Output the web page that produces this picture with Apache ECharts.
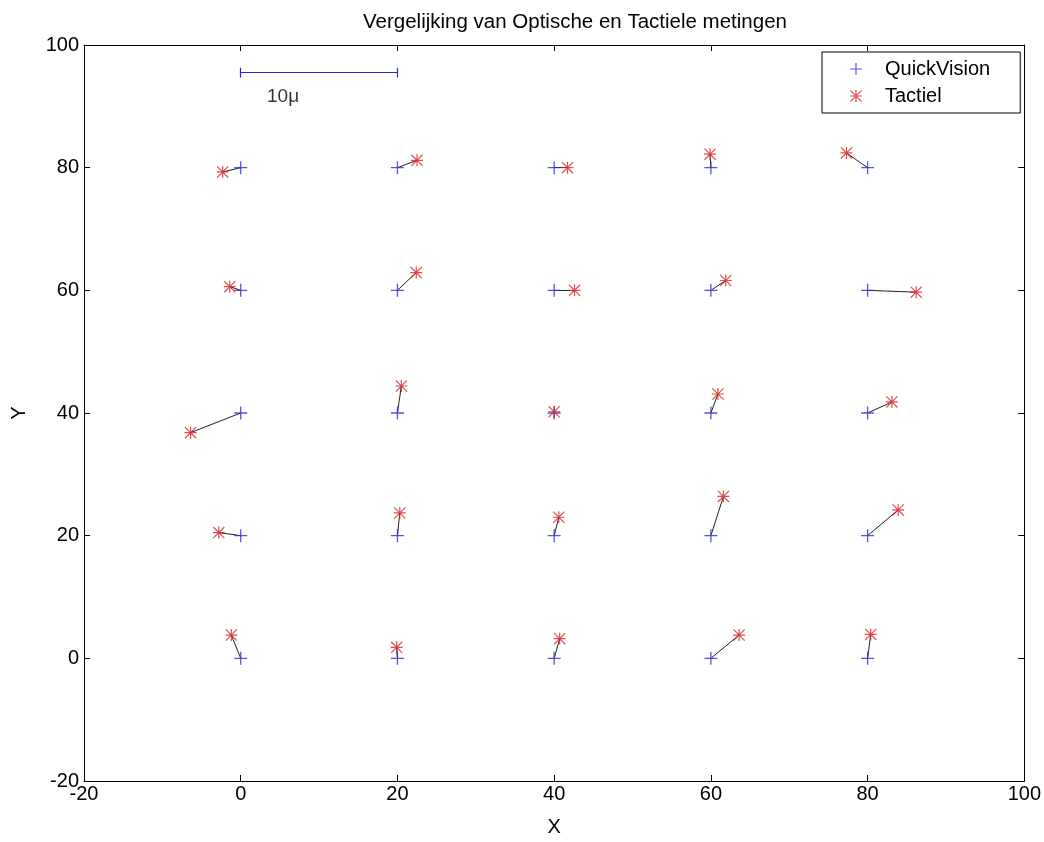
<!DOCTYPE html>
<html>
<head>
<meta charset="utf-8">
<script src="https://cdn.jsdelivr.net/npm/echarts@6/dist/echarts.min.js"></script>
<style>
  html, body { margin: 0; padding: 0; background: #fff; }
  #main { width: 1044px; height: 842px; }
</style>
</head>
<body>
<div id="main"></div>
<script>
// optical (QuickVision) grid points
var quickVision = [
  [0, 80], [20, 80], [40, 80], [60, 80], [80, 80],
  [0, 60], [20, 60], [40, 60], [60, 60], [80, 60],
  [0, 40], [20, 40], [40, 40], [60, 40], [80, 40],
  [0, 20], [20, 20], [40, 20], [60, 20], [80, 20],
  [0, 0], [20, 0], [40, 0], [60, 0], [80, 0]
];
// tactile measurements, same order
var tactiel = [
  [-2.3, 79.3], [22.5, 81.2], [41.7, 80.0], [59.9, 82.2], [77.3, 82.4],
  [-1.4, 60.6], [22.4, 62.9], [42.6, 60.0], [61.9, 61.6], [86.2, 59.7],
  [-6.4, 36.8], [20.5, 44.4], [40.0, 40.2], [60.9, 43.1], [83.1, 41.8],
  [-2.8, 20.5], [20.3, 23.7], [40.6, 23.0], [61.6, 26.4], [83.9, 24.2],
  [-1.2, 3.8], [19.9, 1.8], [40.7, 3.2], [63.6, 3.8], [80.4, 3.9]
];
// scale bar (10 micron)
var scaleBar = [[0, 95.5], [20, 95.5]];
var scaleCaps = [[[0, 94.7], [0, 96.3]], [[20, 94.7], [20, 96.3]]];
var scaleLabel = [[5.4, 91.6]];
var xTicks = { min: -20, max: 100, step: 20 };
var yTicks = { min: -20, max: 100, step: 20 };

var font = "'Liberation Sans', Arial, sans-serif";
var blue = "#2a2ad0";
var red = "#d42424";

var plusPath = "path://M4.5,0h1v10h-1z M0,4.5h10v1h-10z";
var starPath = "path://M4.5,0h1v10h-1z M0,4.5h10v1h-10z " +
  "M0.7,0L10,9.3L9.3,10L0,0.7z M9.3,0L10,0.7L0.7,10L0,9.3z";

var pairLines = quickVision.map(function (p, i) {
  return { coords: [p, tactiel[i]] };
});
var barLines = [{ coords: scaleBar }].concat(scaleCaps.map(function (c) {
  return { coords: c };
}));

var myChart = echarts.init(document.getElementById("main"));

function axisBase(t, showLabel) {
  return {
    type: "value",
    min: t.min,
    max: t.max,
    interval: t.step,
    axisLine: { show: true, onZero: false, lineStyle: { color: "#000", width: 1 } },
    axisTick: { show: true, inside: true, length: 6, lineStyle: { color: "#000" } },
    axisLabel: { show: showLabel, color: "#000", fontSize: 20, fontFamily: font },
    splitLine: { show: false }
  };
}

var xBottom = axisBase(xTicks, true);
xBottom.position = "bottom";
xBottom.name = "X";
xBottom.nameLocation = "middle";
xBottom.nameGap = 36;
xBottom.nameTextStyle = { color: "#000", fontSize: 20, fontFamily: font };
xBottom.axisLabel.margin = 3;
var xTop = axisBase(xTicks, false);
xTop.position = "top";

var yLeft = axisBase(yTicks, true);
yLeft.position = "left";
yLeft.name = "Y";
yLeft.nameLocation = "middle";
yLeft.nameGap = 55;
yLeft.nameTextStyle = { color: "#000", fontSize: 20, fontFamily: font };
yLeft.axisLabel.margin = 5;
var yRight = axisBase(yTicks, false);
yRight.position = "right";

var option = {
  animation: false,
  backgroundColor: "#fff",
  title: {
    text: "Vergelijking van Optische en Tactiele metingen",
    left: 570,
    textAlign: "center",
    top: 7,
    textStyle: { color: "#000", fontSize: 20.5, fontWeight: "normal", fontFamily: font }
  },
  legend: {
    data: ["QuickVision", "Tactiel"],
    orient: "vertical",
    left: 822,
    top: 52,
    itemWidth: 12,
    itemHeight: 12,
    itemGap: 7,
    padding: [7, 30, 7, 28],
    borderColor: "#000",
    borderWidth: 1,
    backgroundColor: "#fff",
    textStyle: { color: "#000", fontSize: 20, fontFamily: font, padding: [0, 0, 0, 18] }
  },
  grid: { left: 84, right: 19, top: 45, bottom: 58 },
  xAxis: [xBottom, xTop],
  yAxis: [yLeft, yRight],
  series: [
    {
      type: "lines",
      coordinateSystem: "cartesian2d",
      polyline: false,
      silent: true,
      lineStyle: { color: "#222", width: 1, opacity: 1 },
      data: pairLines,
      z: 1
    },
    {
      type: "lines",
      coordinateSystem: "cartesian2d",
      silent: true,
      lineStyle: { color: blue, width: 1.2, opacity: 1 },
      data: barLines,
      z: 1
    },
    {
      name: "QuickVision",
      type: "scatter",
      symbol: plusPath,
      symbolSize: 13,
      itemStyle: { color: blue },
      data: quickVision,
      z: 3
    },
    {
      name: "Tactiel",
      type: "scatter",
      symbol: starPath,
      symbolSize: 12,
      itemStyle: { color: red },
      data: tactiel,
      z: 4
    },
    {
      type: "scatter",
      symbolSize: 0,
      silent: true,
      label: {
        show: true,
        position: "inside",
        formatter: "10\u03bc",
        color: "#000",
        fontSize: 19,
        fontFamily: font
      },
      data: scaleLabel
    }
  ]
};
myChart.setOption(option);
</script>
</body>
</html>
